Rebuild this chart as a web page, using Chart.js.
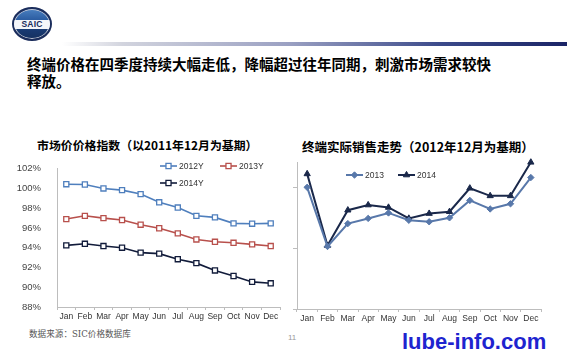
<!DOCTYPE html>
<html><head><meta charset="utf-8">
<script src="https://cdn.jsdelivr.net/npm/chart.js@4.4.0/dist/chart.umd.min.js"></script>
<style>
html,body{margin:0;padding:0;background:#fff;width:567px;height:354px;overflow:hidden;}
body{position:relative;font-family:"Noto Sans CJK SC","Liberation Sans",sans-serif;}
.abs{position:absolute;white-space:nowrap;}
#logo{position:absolute;left:12px;top:7px;width:36px;height:30px;border-radius:50%;border:2px solid #1b2d5c;
 background:linear-gradient(#4a80c0,#24549a 45%,#1a3f7c 55%,#15305f);box-shadow:0 0 0 1px #c8ccd8 inset;overflow:hidden;}
#band{position:absolute;left:0;top:11px;width:36px;height:9px;background:#f4f6fa;color:#1b2d5c;font:bold 8.5px/9px "Liberation Sans",Arial,sans-serif;text-align:center;letter-spacing:0.2px;}
#bar{position:absolute;left:62px;top:42px;width:505px;height:4px;background:linear-gradient(to right,rgba(215,217,226,0),#d2d4de 12%,#9aa0c2 45%,#3b4a8a 75%,#1a2466);}
#t1,#t2{font-weight:700;font-size:14.5px;line-height:18px;color:#000;}
.ct{font-weight:700;font-size:12.5px;line-height:14px;color:#000;}
#src{font-family:"DejaVu Serif","Noto Sans CJK SC",serif;font-size:8.6px;color:#555;}
#pg{font-family:"Liberation Sans",sans-serif;font-size:8px;color:#9a9a9a;}
#wm{font-family:"Liberation Sans",Arial,sans-serif;font-weight:bold;font-size:22px;line-height:22px;color:#1e24cf;}
</style></head><body>
<div id="logo"><div id="band">SAIC</div></div>
<div id="bar"></div>
<div class="abs" id="t1" style="left:27px;top:55px;">终端价格在四季度持续大幅走低，降幅超过往年同期，刺激市场需求较快</div>
<div class="abs" id="t2" style="left:27px;top:72px;">释放。</div>
<div class="abs ct" style="left:37px;top:138px;font-size:11.9px;">市场价价格指数（以2011年12月为基期）</div>
<div class="abs ct" style="left:302px;top:140px;">终端实际销售走势（2012年12月为基期）</div>
<div class="abs" style="left:0;top:155px;width:290px;height:172px;"><canvas id="c1" width="290" height="172"></canvas></div>
<div class="abs" style="left:290px;top:155px;width:277px;height:174px;"><canvas id="c2" width="277" height="174"></canvas></div>
<div class="abs" id="src" style="left:29px;top:327px;">数据来源：SIC价格数据库</div>
<div class="abs" id="pg" style="left:288px;top:333px;">11</div>
<div class="abs" id="wm" style="left:402px;top:331px;">lube-info.com</div>
<script>
// ---- data ----
const months = ['Jan','Feb','Mar','Apr','May','Jun','Jul','Aug','Sep','Oct','Nov','Dec'];
const priceSeriesNames = ['2012Y','2013Y','2014Y'];
const price2012 = [100.43,100.4,100.0,99.83,99.43,98.6,98.07,97.23,97.07,96.47,96.43,96.47];
const price2013 = [96.9,97.23,97.0,96.8,96.33,95.97,95.45,94.84,94.6,94.5,94.34,94.17];
const price2014 = [94.24,94.4,94.17,94.0,93.5,93.4,92.84,92.44,91.7,91.14,90.54,90.4];
const salesSeriesNames = ['2013','2014'];
const sales2013 = [99.9,80.5,88.0,89.7,91.5,89.1,88.6,89.9,95.6,92.8,94.5,103.1];
const sales2014 = [104.3,80.8,92.4,94.1,93.3,89.7,91.3,91.9,99.6,97.1,97.1,108.1];

Chart.defaults.font.family = '"Liberation Sans", Arial, sans-serif';
Chart.defaults.color = '#444';

const insideLegend = {
  id: 'insideLegend',
  afterDraw(chart, args, opts) {
    const ctx = chart.ctx;
    ctx.save();
    chart.data.datasets.forEach((ds, i) => {
      const p = opts.items[i]; if (!p) return;
      ctx.strokeStyle = ds.borderColor; ctx.lineWidth = ds.borderWidth;
      ctx.beginPath(); ctx.moveTo(p.x, p.y); ctx.lineTo(p.x + 17, p.y); ctx.stroke();
      ctx.fillStyle = ds.pointBackgroundColor; ctx.strokeStyle = ds.pointBorderColor;
      ctx.lineWidth = ds.pointBorderWidth;
      Chart.helpers.drawPoint(ctx, {pointStyle: ds.pointStyle, radius: ds.pointRadius, rotation: 0, borderWidth: ds.pointBorderWidth}, p.x + 8.5, p.y);
      ctx.fillStyle = '#333'; ctx.font = opts.font; ctx.textBaseline = 'middle'; ctx.textAlign = 'left';
      ctx.fillText(ds.label, p.x + 19, p.y + 0.5);
    });
    ctx.restore();
  }
};

function priceDs(label, data, color) {
  return {label, data, borderColor: color, borderWidth: 1.6, pointStyle: 'rect', pointRadius: 3.6,
    pointBackgroundColor: '#fff', pointBorderColor: color, pointBorderWidth: 1.3, tension: 0, clip: false};
}
new Chart(document.getElementById('c1'), {
  type: 'line',
  data: {labels: months, datasets: [
    priceDs(priceSeriesNames[0], price2012, '#4f7fbd'),
    priceDs(priceSeriesNames[1], price2013, '#b8504c'),
    priceDs(priceSeriesNames[2], price2014, '#111b3a')
  ]},
  options: {
    responsive: false, animation: false, devicePixelRatio: 1,
    layout: {padding: {top: 12, right: 10, left: 0, bottom: 0}},
    plugins: {legend: {display: false}, tooltip: {enabled: false},
      insideLegend: {font: '8.5px "Liberation Sans", Arial, sans-serif', items: [{x: 160, y: 11}, {x: 220, y: 11}, {x: 160, y: 28}]}},
    scales: {
      x: {offset: true, grid: {offset: true, drawOnChartArea: false, drawTicks: true, tickLength: 3, color: '#bdbdbd'},
        border: {display: true, color: '#bdbdbd'},
        ticks: {padding: 2, font: {size: 8.5}, color: '#333', maxRotation: 0, autoSkip: false},
        afterFit(s) { s.height = 20; }},
      y: {min: 88, max: 102, grid: {display: false}, border: {display: true, color: '#bdbdbd'},
        ticks: {stepSize: 2, padding: 8, font: {size: 9.5}, color: '#444', callback: v => v + '%'},
        afterFit(s) { s.width = 57; }}
    }
  },
  plugins: [insideLegend]
});

function salesDs(label, data, color, style, r) {
  return {label, data, borderColor: color, borderWidth: 2, pointStyle: style, pointRadius: r,
    pointBackgroundColor: color, pointBorderColor: color, pointBorderWidth: 1, tension: 0, clip: false};
}
new Chart(document.getElementById('c2'), {
  type: 'line',
  data: {labels: months, datasets: [
    salesDs(salesSeriesNames[0], sales2013, '#5878aa', 'rectRot', 3.2),
    salesDs(salesSeriesNames[1], sales2014, '#1a284a', 'triangle', 3.6)
  ]},
  options: {
    responsive: false, animation: false, devicePixelRatio: 1,
    layout: {padding: {top: 7, right: 26, left: 0, bottom: 0}},
    plugins: {legend: {display: false}, tooltip: {enabled: false},
      insideLegend: {font: '8.5px "Liberation Sans", Arial, sans-serif', items: [{x: 56, y: 20}, {x: 108, y: 20}]}},
    scales: {
      x: {offset: true, grid: {offset: true, drawOnChartArea: false, drawTicks: true, tickLength: 3, color: '#bdbdbd'},
        border: {display: true, color: '#bdbdbd'},
        ticks: {padding: 2, font: {size: 8.5}, color: '#333', maxRotation: 0, autoSkip: false},
        afterFit(s) { s.height = 20; }},
      y: {min: 60, max: 108.2, grid: {drawOnChartArea: false, drawTicks: true, tickLength: 4, color: '#bdbdbd'},
        border: {display: true, color: '#bdbdbd'},
        ticks: {stepSize: 20, includeBounds: false, display: false},
        afterFit(s) { s.width = 7; }}
    }
  },
  plugins: [insideLegend]
});
</script>
</body></html>
